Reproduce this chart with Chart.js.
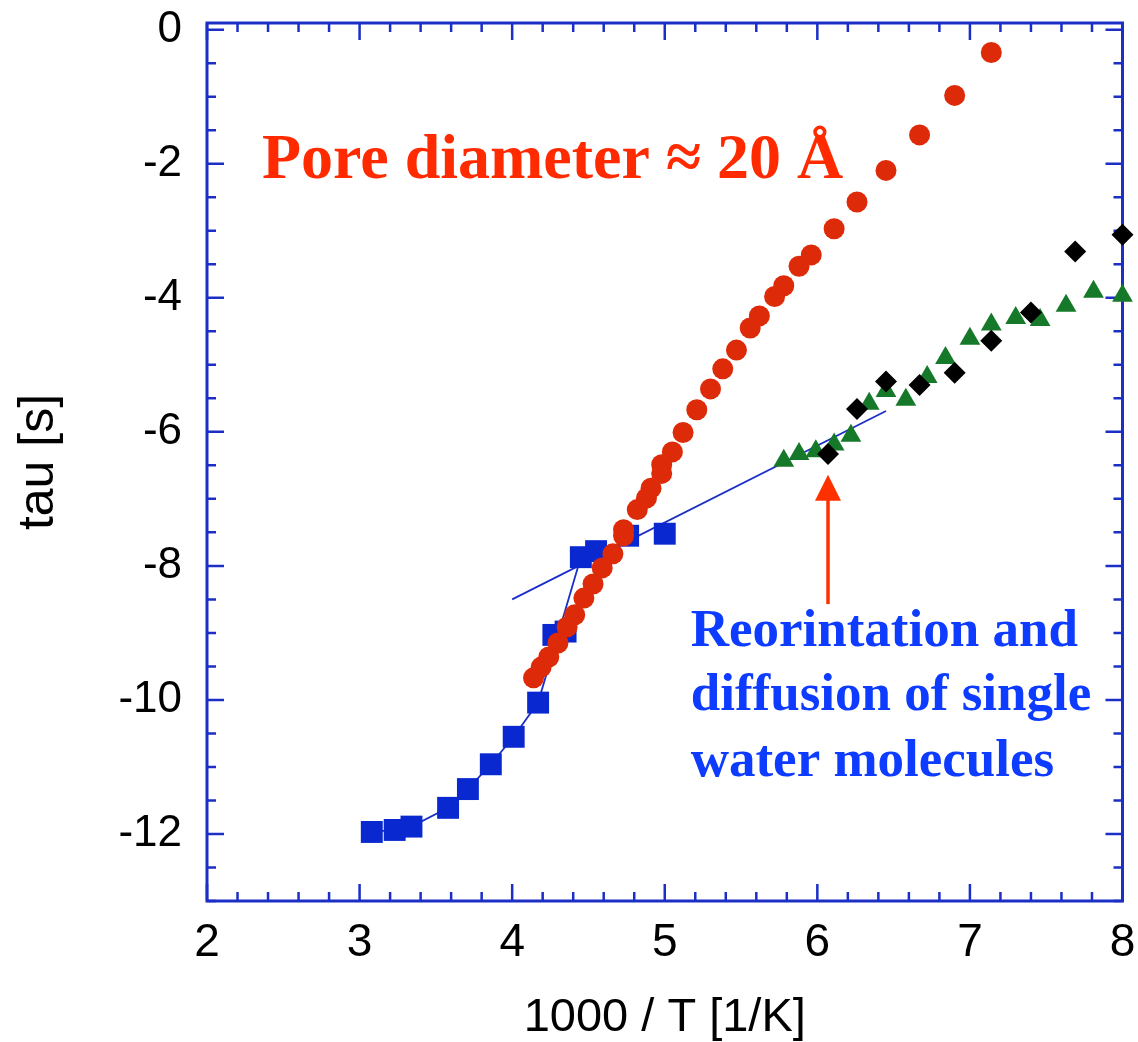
<!DOCTYPE html>
<html>
<head>
<meta charset="utf-8">
<script src="https://cdn.jsdelivr.net/npm/chart.js@4.4.1/dist/chart.umd.min.js"></script>
<style>
html,body{margin:0;padding:0;background:#fff;}
#wrap{width:1138px;height:1042px;position:relative;}
</style>
</head>
<body>
<div id="wrap"><canvas id="c" width="1138" height="1042"></canvas></div>
<script>
// ---- data ----
const redX = [7.14, 6.90, 6.67, 6.45, 6.26, 6.11, 5.96, 5.88, 5.78, 5.72, 5.62, 5.56, 5.47, 5.38, 5.30, 5.21, 5.12, 5.05, 4.98, 4.98, 4.91, 4.88, 4.82, 4.73, 4.73, 4.66, 4.59, 4.53, 4.47, 4.41, 4.36, 4.30, 4.24, 4.19, 4.14];
const redY = [-0.34, -0.98, -1.57, -2.10, -2.57, -2.97, -3.36, -3.53, -3.82, -3.98, -4.27, -4.45, -4.78, -5.06, -5.36, -5.67, -6.01, -6.30, -6.49, -6.62, -6.84, -6.99, -7.16, -7.46, -7.55, -7.82, -8.03, -8.27, -8.48, -8.73, -8.91, -9.15, -9.36, -9.51, -9.67];

const blueX = [3.08, 3.23, 3.34, 3.58, 3.71, 3.86, 4.01, 4.17, 4.27, 4.35, 4.45, 4.55, 4.76, 5.00];
const blueY = [-11.97, -11.94, -11.89, -11.61, -11.33, -10.96, -10.55, -10.04, -9.03, -8.98, -7.87, -7.78, -7.55, -7.52];

const greenX = [5.78, 5.88, 5.99, 6.11, 6.22, 6.34, 6.45, 6.58, 6.72, 6.84, 7.00, 7.14, 7.30, 7.46, 7.63, 7.81, 8.00];
const greenY = [-6.43, -6.33, -6.29, -6.19, -6.06, -5.58, -5.39, -5.52, -5.18, -4.90, -4.61, -4.40, -4.30, -4.33, -4.12, -3.91, -3.97];

const blackX = [6.07, 6.26, 6.45, 6.67, 6.90, 7.14, 7.40, 7.69, 8.00];
const blackY = [-6.33, -5.66, -5.25, -5.30, -5.12, -4.64, -4.22, -3.31, -3.06];

const connectX = [3.08, 3.23, 3.34, 3.58, 3.71, 3.86, 4.01, 4.17, 4.45];
const connectY = [-11.97, -11.94, -11.89, -11.61, -11.33, -10.96, -10.55, -10.04, -7.87];

const fitX = [4.00, 6.45];
const fitY = [-8.50, -5.69];

const xTicks = [2, 3, 4, 5, 6, 7, 8];
const yTicks = [0, -2, -4, -6, -8, -10, -12];
const xTitle = '1000 / T [1/K]';
const yTitle = 'tau [s]';
const poreLabel = 'Pore diameter \u2248 20 \u00C5';
const noteLines = ['Reorintation and', 'diffusion of single', 'water molecules'];

// ---- helpers ----
const pts = (xs, ys) => xs.map((x, i) => ({x: x, y: ys[i]}));
const FRAME = '#1b2fc6';
const SANS = '"Liberation Sans", Arial, sans-serif';

const framePlugin = {
  id: 'frame',
  beforeDatasetsDraw(chart) {
    const {ctx, chartArea: a, scales: {x, y}} = chart;
    ctx.save();
    ctx.strokeStyle = FRAME;
    ctx.lineWidth = 3;
    ctx.strokeRect(a.left, a.top, a.right - a.left, a.bottom - a.top);
    ctx.lineWidth = 2.5;
    const MAJ = 17, MIN = 9;
    for (let k = 0; k <= 30; k++) {
      const v = 2 + k * 0.2;
      const px = x.getPixelForValue(v);
      const L = (k % 5 === 0) ? MAJ : MIN;
      ctx.beginPath();
      ctx.moveTo(px, a.bottom); ctx.lineTo(px, a.bottom - L);
      ctx.moveTo(px, a.top); ctx.lineTo(px, a.top + L);
      ctx.stroke();
    }
    for (let k = 0; k <= 26; k++) {
      const v = -k * 0.5;
      const py = y.getPixelForValue(v);
      const L = (k % 4 === 0) ? MAJ : MIN;
      ctx.beginPath();
      ctx.moveTo(a.left, py); ctx.lineTo(a.left + L, py);
      ctx.moveTo(a.right, py); ctx.lineTo(a.right - L, py);
      ctx.stroke();
    }
    ctx.restore();
  },
  afterDatasetsDraw(chart) {
    const {ctx, scales: {x, y}} = chart;
    ctx.save();
    ctx.fillStyle = '#ff2a00';
    ctx.font = 'bold 64px "Liberation Serif", "Times New Roman", serif';
    ctx.textBaseline = 'alphabetic';
    ctx.textAlign = 'left';
    ctx.fillText(poreLabel, x.getPixelForValue(2.36), y.getPixelForValue(-2.22));
    ctx.fillStyle = '#0d3bff';
    ctx.font = 'bold 53px "Liberation Serif", "Times New Roman", serif';
    const base = [-9.19, -10.15, -11.13];
    noteLines.forEach((t, i) => ctx.fillText(t, x.getPixelForValue(5.17), y.getPixelForValue(base[i])));
    const ax = x.getPixelForValue(6.07);
    const yTail = y.getPixelForValue(-8.57);
    const yTip = y.getPixelForValue(-6.64);
    ctx.strokeStyle = '#ff3000';
    ctx.fillStyle = '#ff3000';
    ctx.lineWidth = 3.5;
    ctx.beginPath(); ctx.moveTo(ax, yTail); ctx.lineTo(ax, yTip + 20); ctx.stroke();
    ctx.beginPath();
    ctx.moveTo(ax, yTip); ctx.lineTo(ax - 13, yTip + 26); ctx.lineTo(ax + 13, yTip + 26); ctx.closePath(); ctx.fill();
    ctx.restore();
  }
};

const ctx = document.getElementById('c').getContext('2d');
new Chart(ctx, {
  type: 'scatter',
  data: {
    datasets: [
      {label: 'black', data: pts(blackX, blackY), pointStyle: 'rectRot', pointRadius: 11, backgroundColor: '#000', borderColor: '#000', borderWidth: 0, order: 1, clip: false},
      {label: 'green', data: pts(greenX, greenY), pointStyle: 'triangle', pointRadius: 12, backgroundColor: '#16792a', borderColor: '#16792a', borderWidth: 0, order: 2, clip: false},
      {label: 'red', data: pts(redX, redY), pointStyle: 'circle', pointRadius: 10.5, backgroundColor: '#dd2a08', borderColor: '#dd2a08', borderWidth: 0, order: 3, clip: false},
      {label: 'blue', data: pts(blueX, blueY), pointStyle: 'rect', pointRadius: 15.5, backgroundColor: '#0a28d0', borderColor: '#0a28d0', borderWidth: 0, order: 4, clip: false},
      {label: 'connect', data: pts(connectX, connectY), showLine: true, pointRadius: 0, borderColor: '#1b2fc6', borderWidth: 1.8, order: 5, clip: false},
      {label: 'fit', data: pts(fitX, fitY), showLine: true, pointRadius: 0, borderColor: '#1b2fc6', borderWidth: 1.8, order: 6, clip: false}
    ]
  },
  options: {
    responsive: false,
    animation: false,
    devicePixelRatio: 1,
    layout: {padding: {top: 23, right: 12, left: 0, bottom: 0}},
    plugins: {legend: {display: false}, tooltip: {enabled: false}},
    elements: {point: {hoverRadius: 0}},
    scales: {
      x: {
        type: 'linear', min: 2, max: 8,
        afterFit(s) { s.height = 141; s.paddingLeft = 0; s.paddingRight = 0; },
        afterBuildTicks(s) { s.ticks = xTicks.map(v => ({value: v})); },
        grid: {display: false, drawTicks: false},
        border: {display: false},
        ticks: {color: '#000', padding: 15, font: {family: SANS, size: 46}, maxRotation: 0, callback: v => String(v)},
        title: {display: true, text: xTitle, color: '#000', padding: {top: 0, bottom: 0}, font: {family: SANS, size: 47, lineHeight: 1.0}}
      },
      y: {
        type: 'linear', min: -13, max: 0.1,
        afterFit(s) { s.width = 207; s.paddingTop = 0; s.paddingBottom = 0; },
        afterBuildTicks(s) { s.ticks = yTicks.map(v => ({value: v})); },
        grid: {display: false, drawTicks: false},
        border: {display: false},
        ticks: {color: '#000', padding: 25, font: {family: SANS, size: 44}, callback: v => String(v)},
        title: {display: true, text: yTitle, color: '#000', padding: {top: 14, bottom: 0}, font: {family: SANS, size: 50, lineHeight: 1.0}}
      }
    }
  },
  plugins: [framePlugin]
});
</script>
</body>
</html>
